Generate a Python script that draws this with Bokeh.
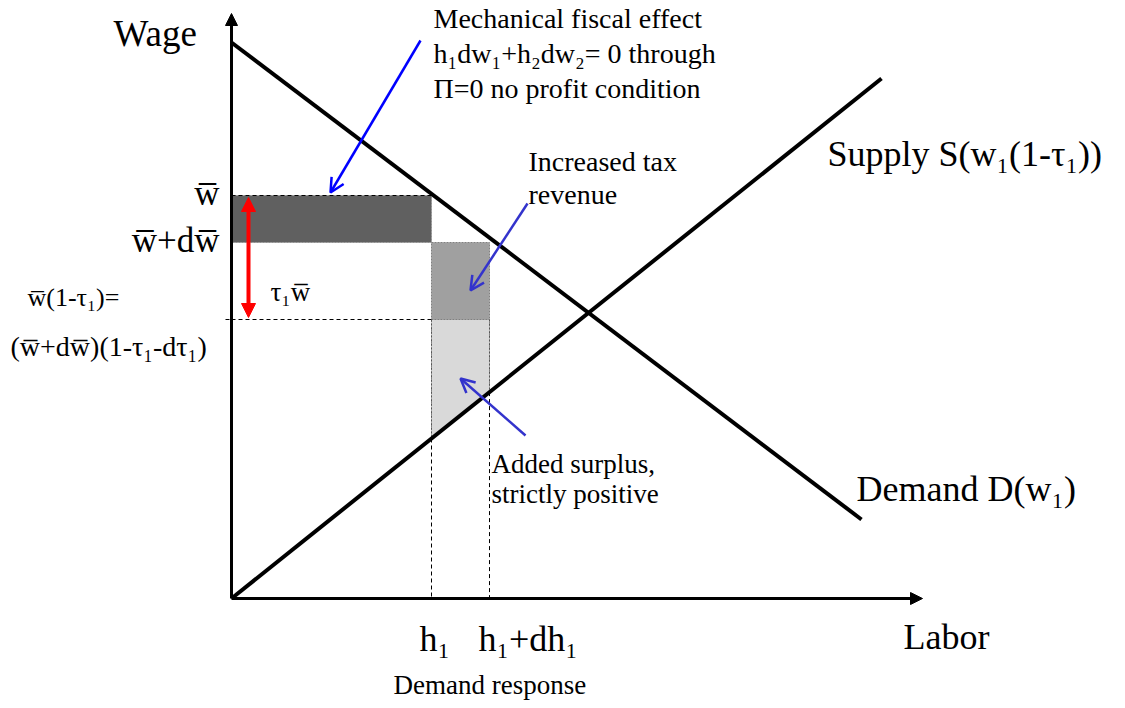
from bokeh.plotting import figure
from bokeh.models import Range1d, Arrow, NormalHead, OpenHead
from bokeh.core.properties import value
from bokeh.embed import file_html
from bokeh.resources import INLINE

# ---- schematic data (labor on x, wage on y; origin at 0,0) ----
axis_x_end = 691
axis_y_end = 585
demand_x = [0, 630]
demand_y = [556, 79]
supply_x = [0, 650]
supply_y = [0, 520]
w_bar = 403          # w-bar
w_bar_dw = 356       # w-bar + d w-bar
w_net = 279          # w-bar (1 - tau1)
h1 = 200
h1_dh = 258

s_slope = supply_y[1] / supply_x[1]
s_at_h1 = s_slope * h1
s_at_h1dh = s_slope * h1_dh

FONT = value("Liberation Serif")
OV = "\u0305"  # combining overline

p = figure(width=1117, height=700, output_backend="svg", toolbar_location=None,
           x_range=Range1d(-231, 886), y_range=Range1d(-102, 598),
           min_border=0, outline_line_color=None)
p.axis.visible = False
p.grid.visible = False
p.background_fill_color = "white"

# shaded areas
p.quad(left=[0], right=[h1], bottom=[w_bar_dw], top=[w_bar],
       fill_color="#606060", line_color="#909090", line_dash="2 1", line_width=1)
p.quad(left=[h1], right=[h1_dh], bottom=[w_net], top=[w_bar_dw],
       fill_color="#a0a0a0", line_color="#808080", line_dash="2 1", line_width=1)
p.patch(x=[h1, h1_dh, h1_dh, h1], y=[w_net, w_net, s_at_h1dh, s_at_h1],
        fill_color="#d9d9d9", line_color="#808080", line_dash="2 1", line_width=1)

# dashed guide lines
p.segment(x0=[0, 0, h1, h1_dh], y0=[w_bar, w_net, s_at_h1, s_at_h1dh],
          x1=[h1, h1, h1, h1_dh], y1=[w_bar, w_net, 0, 0],
          line_color="black", line_dash="4 3", line_width=1)
p.segment(x0=[h1, h1_dh], y0=[w_net, w_net], x1=[h1, h1_dh], y1=[s_at_h1, s_at_h1dh],
          line_color="#555555", line_dash="2 2", line_width=1)
p.segment(x0=[-6], y0=[w_net], x1=[-2], y1=[w_net], line_color="black", line_width=1)

# demand and supply
p.line(demand_x, demand_y, line_color="black", line_width=4)
p.line(supply_x, supply_y, line_color="black", line_width=4)

# axes with arrowheads
p.add_layout(Arrow(x_start=0, y_start=0, x_end=0, y_end=axis_y_end, line_width=3,
                   line_color="black",
                   end=NormalHead(size=12, fill_color="black", line_color="black")))
p.add_layout(Arrow(x_start=0, y_start=0, x_end=axis_x_end, y_end=0, line_width=3,
                   line_color="black",
                   end=NormalHead(size=12, fill_color="black", line_color="black")))

# red double arrow (tau1 * w-bar)
p.add_layout(Arrow(x_start=17, y_start=w_net + 2, x_end=17, y_end=w_bar - 2,
                   line_color="red", line_width=4,
                   start=NormalHead(size=14, fill_color="red", line_color="red"),
                   end=NormalHead(size=14, fill_color="red", line_color="red")))

# blue annotation arrows
p.add_layout(Arrow(x_start=189, y_start=558, x_end=99, y_end=406, line_color="#0000ff",
                   line_width=2.5, end=OpenHead(size=14, line_color="#0000ff", line_width=2.5)))
p.add_layout(Arrow(x_start=296, y_start=395, x_end=239, y_end=308, line_color="#3333cc",
                   line_width=2.5, end=OpenHead(size=14, line_color="#3333cc", line_width=2.5)))
p.add_layout(Arrow(x_start=294, y_start=163, x_end=229, y_end=220, line_color="#3333cc",
                   line_width=2.5, end=OpenHead(size=14, line_color="#3333cc", line_width=2.5)))

def txt(x, y, s, size, align="left"):
    shift = round(0.33 * size)
    p.text(x=[x], y=[y + shift], text=[s], text_font=FONT, text_font_size=f"{size}px",
           text_align=align, text_baseline="alphabetic", text_color="black")

txt(-118, 553, "Wage", 37)
txt(202, 571, "Mechanical fiscal effect", 28)
txt(202, 536, "h₁dw₁+h₂dw₂= 0 through", 28)
txt(202, 501, "Π=0 no profit condition", 28)
txt(297, 428, "Increased tax", 28)
txt(297, 395, "revenue", 28)
txt(596, 433, "Supply S(w₁(1-τ₁))", 36)
txt(-12, 393, "w" + OV, 35, "right")
txt(-12, 346, "w" + OV + "+dw" + OV, 35, "right")
txt(-204, 292, "w" + OV + "(1-τ₁)=", 26)
txt(-221, 243, "(w" + OV + "+dw" + OV + ")(1-τ₁-dτ₁)", 28)
txt(39, 298, "τ₁w" + OV, 27)
txt(260, 126, "Added surplus,", 27)
txt(260, 96, "strictly positive", 27)
txt(625, 98, "Demand D(w₁)", 36)
txt(672, -50, "Labor", 36)
txt(188, -52, "h₁", 36)
txt(247, -52, "h₁+dh₁", 36)
txt(162, -95, "Demand response", 27)

open("out.html", "w").write(file_html(p, INLINE))
